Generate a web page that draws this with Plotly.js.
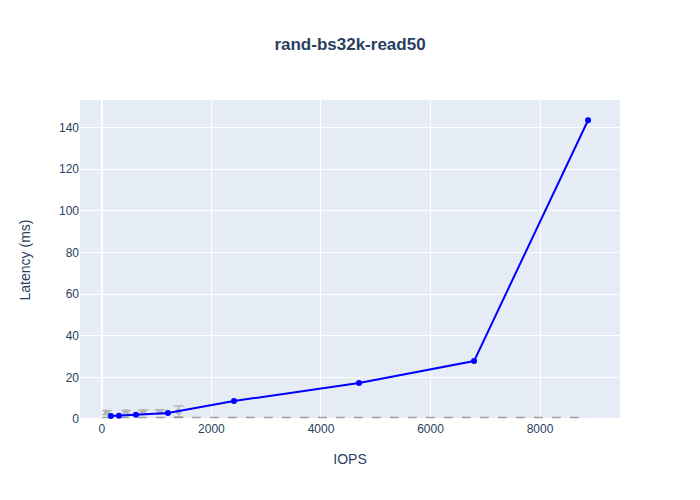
<!DOCTYPE html>
<html>
<head>
<meta charset="utf-8">
<script src="https://cdn.plot.ly/plotly-3.0.1.min.js"></script>
<style>body{margin:0;}#chart{width:700px;height:500px;}</style>
</head>
<body>
<div id="chart"></div>
<script>
// Main series (blue)
const iops = [164, 310, 621, 1205, 2411, 4694, 6795, 8877];
const latency = [1.4, 1.5, 2.0, 2.9, 8.6, 17.3, 27.8, 143.5];

// Secondary series (grey, with error bars)
const iops2 = [90, 440, 750, 1060, 1400];
const latency2 = [3.1, 3.2, 3.3, 3.4, 3.6];
const latency2Err = [1.0, 0.9, 0.9, 1.0, 2.6];

// Reference dashed line
const refX = [0, 8877];
const refY = [0.7, 0.7];

const traces = [
  {
    x: refX, y: refY, mode: 'lines', type: 'scatter',
    line: {color: 'grey', dash: 'dash', width: 1.5}, opacity: 0.7,
    hoverinfo: 'skip'
  },
  {
    x: iops2, y: latency2, mode: 'markers', type: 'scatter',
    marker: {color: 'grey', size: 6}, opacity: 0.5,
    error_y: {type: 'data', array: latency2Err, visible: true, color: 'grey', thickness: 1.5, width: 5}
  },
  {
    x: iops, y: latency, mode: 'lines+markers', type: 'scatter',
    line: {color: 'blue', width: 2}, marker: {color: 'blue', size: 6}
  }
];

const axisStyle = {
  gridcolor: 'white', zerolinecolor: 'white', zerolinewidth: 2,
  showline: false, ticks: '', linecolor: 'white'
};

const layout = {
  width: 700, height: 500,
  showlegend: false,
  font: {family: 'Arial, "Liberation Sans", sans-serif', size: 12, color: '#2a3f5f'},
  paper_bgcolor: 'white',
  plot_bgcolor: '#E5ECF6',
  title: {text: '<b>rand-bs32k-read50</b>', x: 0.5, font: {size: 17, color: '#2a3f5f'}},
  xaxis: Object.assign({title: {text: 'IOPS', font: {size: 14}, standoff: 19}, range: [-400, 9460]}, axisStyle),
  yaxis: Object.assign({title: {text: 'Latency (ms)', font: {size: 14}, standoff: 25}, range: [-0.5, 153.2]}, axisStyle),
  margin: {l: 80, r: 80, t: 100, b: 80}
};

Plotly.newPlot('chart', traces, layout, {displayModeBar: false});
</script>
</body>
</html>
